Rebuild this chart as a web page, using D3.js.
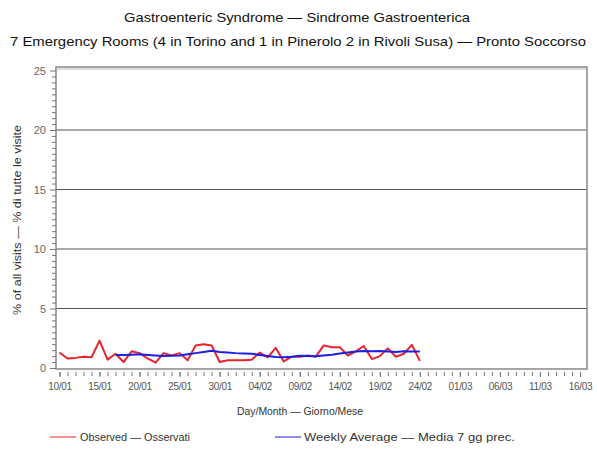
<!DOCTYPE html>
<html><head><meta charset="utf-8">
<script src="https://cdn.jsdelivr.net/npm/d3@7"></script>
<style>body{margin:0;background:#fff}svg{display:block}text{font-family:"Liberation Sans",Arial,sans-serif}</style>
</head><body><svg id="c" width="597" height="450"></svg>
<script>
const startDate = "2009-01-10";
const observed = [1.3,0.8,0.85,0.95,0.9,2.3,0.7,1.2,0.5,1.4,1.25,0.8,0.45,1.25,1.05,1.25,0.65,1.9,2.0,1.9,0.5,0.65,0.65,0.65,0.7,1.3,0.9,1.7,0.55,0.95,0.95,1.05,0.95,1.9,1.75,1.75,1.05,1.4,1.85,0.75,1.0,1.65,0.95,1.2,1.95,0.6];
const weeklyStart = 7;
const weekly = [1.1,1.1,1.12,1.15,1.1,1.05,1.0,1.02,1.05,1.15,1.25,1.35,1.45,1.35,1.3,1.25,1.22,1.2,1.1,1.0,0.92,0.9,0.95,1.02,1.0,0.98,1.05,1.12,1.22,1.3,1.38,1.42,1.4,1.42,1.38,1.35,1.4,1.38,1.38];
const xTickLabels = ["10/01","15/01","20/01","25/01","30/01","04/02","09/02","14/02","19/02","24/02","01/03","06/03","11/03","16/03"];
const yTicks = [0,5,10,15,20,25];
const titles = ["Gastroenteric Syndrome \u2014 Sindrome Gastroenterica","7 Emergency Rooms (4 in Torino and 1 in Pinerolo 2 in Rivoli Susa) \u2014 Pronto Soccorso"];
const yTitle = "% of all visits \u2014 % di tutte le visite";
const xTitle = "Day/Month \u2014 Giorno/Mese";
const legendLabels = ["Observed \u2014 Osservati","Weekly Average \u2014 Media 7 gg prec."];

const svg = d3.select("#c");
const parse = d3.timeParse("%Y-%m-%d");
const d0 = parse(startDate);
const day = i => d3.timeDay.offset(d0, i);
const x = d3.scaleTime().domain([day(0), day(65)]).range([59.5, 580]);
const y = d3.scaleLinear().domain([0,25]).range([368, 70.5]);
const L = 56, R = 587, T = 67, B = 369;
const red = "#e8242a", blue = "#1c1ee0";

// grid lines
svg.append("g").selectAll("line").data(yTicks.filter(v=>v>0&&v<25)).join("line")
  .attr("x1",L).attr("x2",R).attr("y1",d=>y(d)).attr("y2",d=>y(d))
  .attr("stroke","#555").attr("stroke-width",1);
// frame
svg.append("rect").attr("x",L).attr("y",T).attr("width",R-L).attr("height",B-T)
  .attr("fill","none").attr("stroke","#888").attr("stroke-width",1.5);
svg.append("line").attr("x1",L).attr("x2",R).attr("y1",T+2).attr("y2",T+2).attr("stroke","#bbb");

// y axis
const yAxis = d3.axisLeft(y).tickValues(yTicks).tickSize(6).tickPadding(4).tickFormat(d3.format("d"));
const gy = svg.append("g").attr("transform",`translate(${L},0)`).call(yAxis);
gy.select(".domain").remove();
gy.selectAll("line").attr("stroke","#777");
gy.selectAll("text").attr("fill","#666").attr("font-size",11).attr("font-family","Liberation Sans, Arial");
const yMinor = d3.range(0,25.01,0.5).filter(v=>v%5!==0);
svg.append("g").attr("transform",`translate(${L},0)`).call(d3.axisLeft(y).tickValues(yMinor).tickSize(4).tickFormat(""))
  .call(g=>{g.select(".domain").remove(); g.selectAll("line").attr("stroke","#777");});

// x axis
const xMinor = d3.range(0,66).map(day);
svg.append("g").attr("transform",`translate(0,${B+3})`).call(d3.axisBottom(x).tickValues(xMinor).tickSize(4).tickFormat(""))
  .call(g=>{g.select(".domain").remove(); g.selectAll("line").attr("stroke","#777");});
const xMajor = xTickLabels.map((t,i)=>day(i*5));
const gx = svg.append("g").attr("transform",`translate(0,${B+3})`)
  .call(d3.axisBottom(x).tickValues(xMajor).tickSize(5).tickPadding(6).tickFormat((d,i)=>xTickLabels[i]));
gx.select(".domain").remove();
gx.selectAll("line").attr("stroke","#777");
gx.selectAll("text").attr("fill","#555").attr("font-size",10).attr("font-family","Liberation Sans, Arial").attr("letter-spacing","-0.3");

// lines
const line = d3.line().x(d=>x(d.date)).y(d=>y(d.v));
const obsData = observed.map((v,i)=>({date:day(i),v}));
const wkData = weekly.map((v,i)=>({date:day(weeklyStart+i),v}));
svg.append("path").datum(obsData).attr("d",line).attr("fill","none").attr("stroke",red).attr("stroke-width",2).attr("stroke-linejoin","round");
svg.append("path").datum(wkData).attr("d",line).attr("fill","none").attr("stroke",blue).attr("stroke-width",2).attr("stroke-linejoin","round");

// titles
svg.append("text").attr("x",297).attr("y",22).attr("text-anchor","middle").attr("font-size",13.5).attr("fill","#111")
  .attr("textLength",346).attr("lengthAdjust","spacingAndGlyphs").text(titles[0]);
svg.append("text").attr("x",298).attr("y",46).attr("text-anchor","middle").attr("font-size",13.5).attr("fill","#111")
  .attr("textLength",576).attr("lengthAdjust","spacingAndGlyphs").text(titles[1]);
svg.append("text").attr("transform","translate(21,220) rotate(-90)").attr("text-anchor","middle").attr("font-size",10.5).attr("fill","#333")
  .attr("textLength",190).attr("lengthAdjust","spacingAndGlyphs").text(yTitle);
svg.append("text").attr("x",300).attr("y",415).attr("text-anchor","middle").attr("font-size",10.5).attr("fill","#333")
  .attr("textLength",126).attr("lengthAdjust","spacingAndGlyphs").text(xTitle);

// legend
const lg = svg.append("g");
lg.append("line").attr("x1",50).attr("x2",76).attr("y1",437).attr("y2",437).attr("stroke",red).attr("stroke-width",1);
lg.append("text").attr("x",80).attr("y",441).attr("font-size",10).attr("fill","#333").attr("textLength",110).attr("lengthAdjust","spacingAndGlyphs").text(legendLabels[0]);
lg.append("line").attr("x1",275).attr("x2",301).attr("y1",437).attr("y2",437).attr("stroke",blue).attr("stroke-width",1);
lg.append("text").attr("x",304).attr("y",441).attr("font-size",10).attr("fill","#333").attr("textLength",211).attr("lengthAdjust","spacingAndGlyphs").text(legendLabels[1]);
</script></body></html>
